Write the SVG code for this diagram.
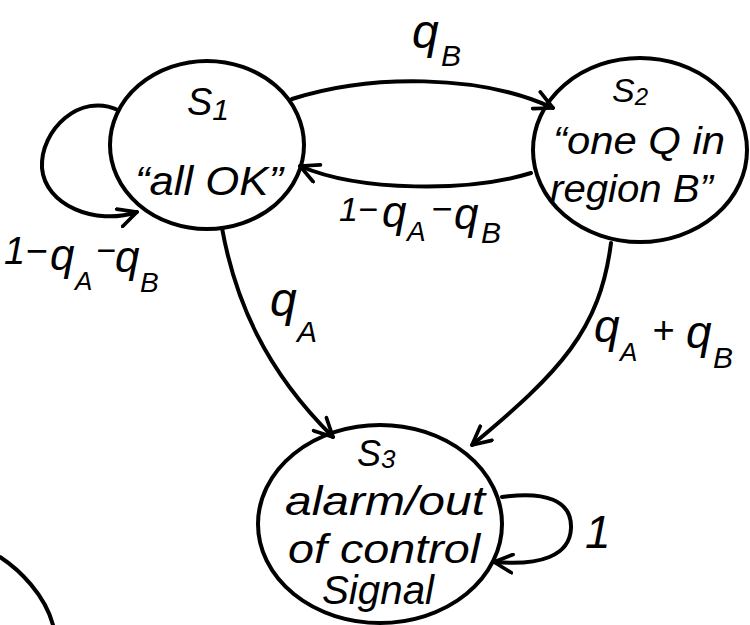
<svg xmlns="http://www.w3.org/2000/svg" width="750" height="625" viewBox="0 0 750 625">
<style>
.st{fill:none;stroke:#000;stroke-width:4;stroke-linecap:round;stroke-linejoin:round}
.tx{font-family:"Liberation Sans",Arial,sans-serif;font-style:italic;fill:#000}
</style>
<defs>
<marker id="ah" viewBox="0 0 12 12" refX="11" refY="6" markerWidth="22" markerHeight="22" markerUnits="userSpaceOnUse" orient="auto">
<path d="M1,1 L11,6 L1,11" fill="none" stroke="#000" stroke-width="2" stroke-linecap="round" stroke-linejoin="round"/>
</marker>
</defs>
<rect width="750" height="625" fill="#fff"/>

<g id="connectors">
<path class="st" d="M118,110 C80,92 40,130 42,168 C45,205 95,226 137,212" marker-end="url(#ah)"/>
<path class="st" d="M292,99 C370,74 480,74 553,108" marker-end="url(#ah)"/>
<path class="st" d="M531,173 C470,192 360,192 300,166" marker-end="url(#ah)"/>
<path class="st" d="M222,228 C235,300 265,370 333,437" marker-end="url(#ah)"/>
<path class="st" d="M611,243 C600,330 560,372 472,445" marker-end="url(#ah)"/>
<path class="st" d="M502,497 C545,491 572,500 571,528 C570,556 540,566 494,562" marker-end="url(#ah)"/>
</g>

<g id="S1">
<ellipse class="st" cx="207" cy="145" rx="97" ry="84"/>
<text class="tx" x="187" y="115" font-size="38">S<tspan font-size="30" dy="5">1</tspan></text>
<text class="tx" x="135" y="195" font-size="40" textLength="148" lengthAdjust="spacingAndGlyphs">“all OK”</text>
</g>

<g id="S2">
<ellipse class="st" cx="640" cy="150" rx="107" ry="92"/>
<text class="tx" x="612" y="102" font-size="34">S<tspan font-size="24" dy="3">2</tspan></text>
<text class="tx" x="553" y="154" font-size="38" textLength="172" lengthAdjust="spacingAndGlyphs">“one Q in</text>
<text class="tx" x="550" y="202" font-size="38" textLength="163" lengthAdjust="spacingAndGlyphs">region B”</text>
</g>

<g id="S3">
<ellipse class="st" cx="380" cy="524" rx="122" ry="99"/>
<text class="tx" x="357" y="466" font-size="36">S<tspan font-size="26" dy="2">3</tspan></text>
<text class="tx" x="285" y="515" font-size="40" textLength="200" lengthAdjust="spacingAndGlyphs">alarm/out</text>
<text class="tx" x="288" y="563" font-size="40" textLength="192" lengthAdjust="spacingAndGlyphs">of control</text>
<text class="tx" x="322" y="604" font-size="40" textLength="112" lengthAdjust="spacingAndGlyphs">Signal</text>
</g>

<g id="labels">
<text class="tx" x="412" y="48" font-size="48">q</text>
<text class="tx" x="441" y="66" font-size="30">B</text>

<text class="tx" x="339" y="221" font-size="34">1−</text>
<text class="tx" x="382" y="227" font-size="44">q</text>
<text class="tx" x="407" y="241" font-size="28">A</text>
<text class="tx" x="431" y="221" font-size="36">−</text>
<text class="tx" x="454" y="229" font-size="44">q</text>
<text class="tx" x="481" y="243" font-size="30">B</text>

<text class="tx" x="4" y="264" font-size="38">1−</text>
<text class="tx" x="50" y="270" font-size="44">q</text>
<text class="tx" x="75" y="290" font-size="26">A</text>
<text class="tx" x="96" y="262" font-size="34">−</text>
<text class="tx" x="115" y="272" font-size="44">q</text>
<text class="tx" x="140" y="292" font-size="28">B</text>

<text class="tx" x="270" y="316" font-size="48">q</text>
<text class="tx" x="297" y="342" font-size="30">A</text>

<text class="tx" x="594" y="342" font-size="46">q</text>
<text class="tx" x="620" y="361" font-size="26">A</text>
<text class="tx" x="652" y="343" font-size="38">+</text>
<text class="tx" x="686" y="348" font-size="46">q</text>
<text class="tx" x="713" y="368" font-size="30">B</text>

<text class="tx" x="585" y="548" font-size="46">1</text>
</g>

<path class="st" d="M0,557 C20,570 45,595 53,625"/>
</svg>
